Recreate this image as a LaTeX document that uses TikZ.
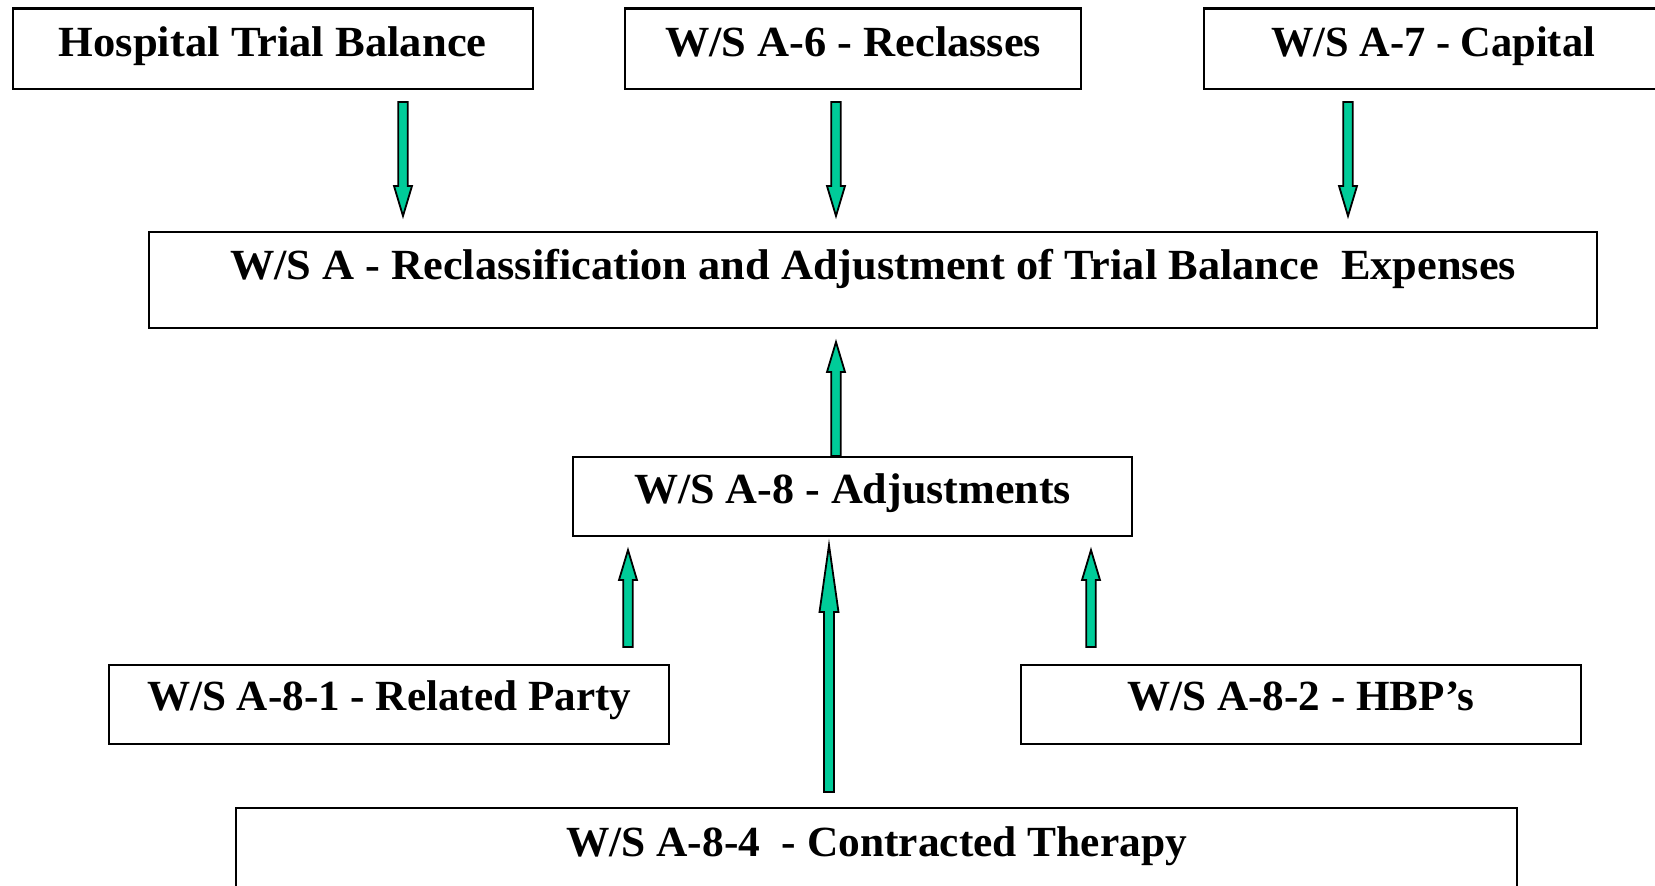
\documentclass[tikz,border=0pt]{standalone}
\usepackage{fontspec}
\setmainfont{Liberation Serif}
\usepackage{graphicx}
\usetikzlibrary{calc}
\definecolor{arrgreen}{RGB}{0,204,153}
\newcommand{\fitto}[2]{\resizebox{#1}{\height}{#2}}
% fat arrow: from, to, shaft width, head width, head length
\newcommand{\fatarrow}[5]{%
  \coordinate (fa-c) at ($(#2)!#5!(#1)$);
  \filldraw[fatarr] ($(#1)!#3/2!90:(#2)$) -- ($(fa-c)!#3/2!90:(#2)$)
    -- ($(fa-c)!#4/2!90:(#2)$) -- (#2) -- ($(fa-c)!#4/2!-90:(#2)$)
    -- ($(fa-c)!#3/2!-90:(#2)$) -- ($(#1)!#3/2!-90:(#2)$) -- cycle;}
\begin{document}
\begin{tikzpicture}[x=1pt,y=-1pt,
  box/.style={draw=black,line width=2.2pt,anchor=north west,inner xsep=0pt,inner ysep=0pt,
    font=\fontsize{43}{43}\selectfont\bfseries,align=center},
  topbox/.style={box,text height=47.6pt,text depth=32.6pt},
  fatarr/.style={fill=arrgreen,draw=black,line width=1.8pt,line join=miter}]
\useasboundingbox (0,0) rectangle (1655,886);
\clip (0,0) rectangle (1655,886);
\fill[white] (0,0) rectangle (1655,886);

\node[topbox,minimum width=520pt] (hosp) at (11.6,7.4) {\fitto{428pt}{Hospital Trial Balance}};
\node[topbox,minimum width=456pt] (a6) at (624,7.4) {\fitto{376pt}{W/S A-6 - Reclasses}};
\node[topbox,minimum width=458pt] (a7) at (1203,7.4) {\fitto{324pt}{W/S A-7 - Capital}};
\node[box,minimum width=1448pt,text height=47pt,text depth=49pt] (wsa) at (148,231)
  {\fitto{1286pt}{W/S A - Reclassification and Adjustment of Trial Balance\ \ Expenses}};
\node[box,minimum width=559pt,text height=46pt,text depth=33pt] (a8) at (572,456)
  {\fitto{437pt}{W/S A-8 - Adjustments}};
\node[box,minimum width=560pt,text height=45pt,text depth=34pt] (a81) at (108,664)
  {\fitto{484pt}{W/S A-8-1 - Related Party}};
\node[box,minimum width=560pt,text height=45pt,text depth=34pt] (a82) at (1020,664)
  {\fitto{347pt}{W/S A-8-2 - HBP’s}};
\node[box,minimum width=1281pt,text height=48pt,text depth=60pt] (a84) at (235,807)
  {\fitto{621pt}{W/S A-8-4\ \ - Contracted Therapy}};

\coordinate (h1s) at (403,102);  \coordinate (h1e) at (403,216);
\coordinate (h2s) at (836,102);  \coordinate (h2e) at (836,216);
\coordinate (h3s) at (1348,102); \coordinate (h3e) at (1348,216);
\coordinate (u0s) at ($(a8.north west)+(264,0)$); \coordinate (u0e) at (836,342);
\coordinate (u1s) at (628,647);  \coordinate (u1e) at (628,550);
\coordinate (u2s) at (1091,647); \coordinate (u2e) at (1091,550);
\coordinate (u3s) at (829,792);  \coordinate (u3e) at (829,545);

\fatarrow{h1s}{h1e}{9.5pt}{18pt}{30pt}
\fatarrow{h2s}{h2e}{9.5pt}{18pt}{30pt}
\fatarrow{h3s}{h3e}{9.5pt}{18pt}{30pt}
\fatarrow{u0s}{u0e}{9.5pt}{18pt}{30pt}
\fatarrow{u1s}{u1e}{9.5pt}{18pt}{30pt}
\fatarrow{u2s}{u2e}{9.5pt}{18pt}{30pt}
\fatarrow{u3s}{u3e}{10pt}{19pt}{67pt}
\end{tikzpicture}
\end{document}
